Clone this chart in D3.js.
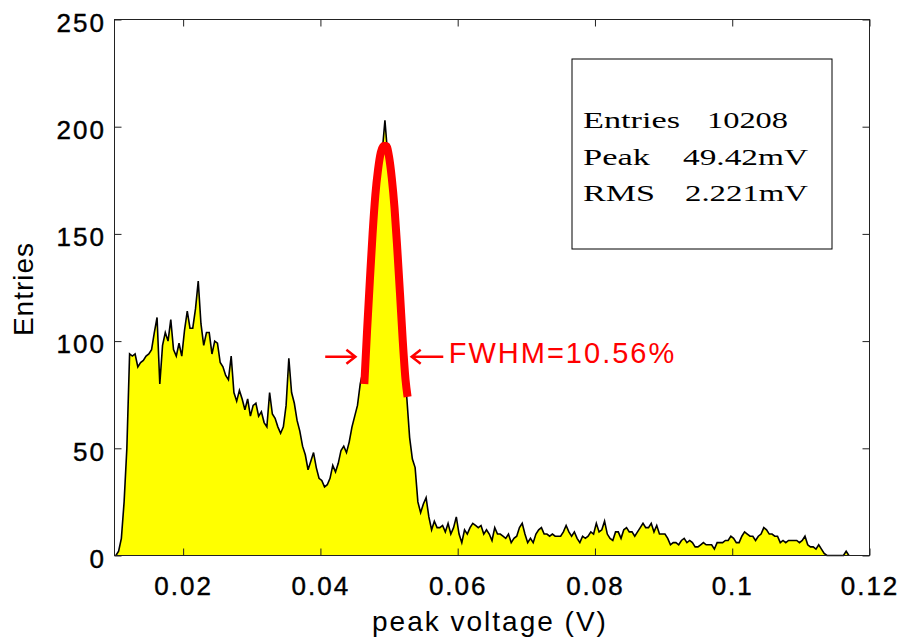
<!DOCTYPE html>
<html>
<head>
<meta charset="utf-8">
<script src="https://cdn.jsdelivr.net/npm/d3@7"></script>
<style>
  body { margin: 0; background: #fff; }
</style>
</head>
<body>
<div id="chart"></div>
<script>
// histogram: bins of 0.4 mV starting at 10 mV, entries per bin
const binStart = 0.01;
const binWidth = 0.0004;
const counts = [
  0, 2, 8, 25, 50, 94, 93, 94, 88, 90, 91, 93, 94, 96, 104, 111, 80, 98, 104, 100,
  110, 96, 93, 99, 93, 105, 114, 106, 106, 115, 128, 108, 98, 104, 104, 94, 100, 99, 90, 88,
  84, 82, 93, 76, 72, 77, 73, 68, 73, 65, 70, 71, 65, 67, 62, 60, 76, 66, 64, 60,
  57, 60, 70, 92, 76, 71, 63, 58, 51, 47, 40, 44, 48, 41, 36, 35, 32, 33, 36, 42,
  39, 43, 49, 51, 48, 53, 60, 65, 70, 80, 86, 96, 115, 140, 157, 175, 183, 188, 203, 187,
  182, 166, 150, 131, 111, 90, 73, 55, 45, 41, 25, 20, 24, 27, 18, 12, 16, 13, 13, 14,
  11, 15, 10, 13, 18, 10, 6, 12, 10, 13, 15, 14, 13, 14, 10, 12, 10, 7, 13, 10,
  10, 9, 8, 10, 6, 8, 9, 13, 15, 10, 6, 8, 6, 10, 12, 13, 10, 10, 9, 10,
  9, 9, 9, 11, 14, 11, 9, 11, 8, 6, 9, 8, 9, 11, 10, 15, 11, 12, 16, 10,
  8, 7, 11, 11, 8, 12, 13, 11, 11, 9, 11, 13, 15, 13, 13, 15, 11, 14, 10, 10,
  10, 8, 5, 6, 6, 5, 7, 8, 6, 7, 6, 4, 4, 5, 6, 5, 5, 5, 3, 6,
  6, 6, 7, 7, 9, 8, 6, 6, 9, 11, 10, 9, 9, 7, 9, 10, 13, 12, 10, 10,
  9, 9, 6, 7, 6, 7, 7, 7, 7, 6, 7, 9, 5, 4, 4, 3, 5, 3, 1, 0,
  0, 0, 0, 0, 0, 0, 2, 0
];

// gaussian fit around the peak
const fitVolts = [0.0464, 0.0468, 0.0472, 0.0476, 0.0480, 0.0484, 0.0488, 0.0492, 0.0496,
  0.0500, 0.0504, 0.0508, 0.0512, 0.0516, 0.0520, 0.0524, 0.0527];
const fitEntries = [80, 105, 128, 150, 168, 180, 188, 191, 191, 186, 176, 162, 143, 122, 100, 82, 74];

const xTicks = [0.02, 0.04, 0.06, 0.08, 0.1, 0.12];
const xTickLabels = ["0.02", "0.04", "0.06", "0.08", "0.1", "0.12"];
const yTicks = [0, 50, 100, 150, 200, 250];

const statLabels = ["Entries", "Peak", "RMS"];
const statValues = ["10208", "49.42mV", "2.221mV"];

// FWHM annotation (arrow tails/tips in volts, height in entries)
const fwhmText = "FWHM=10.56%";
const arrowLevel = 92.7;
const leftArrow = [0.0407, 0.0451];
const rightArrow = [0.0579, 0.0533];
const fwhmLabelAt = [0.0587, 89.6];

const sans = "'Liberation Sans', Arial, sans-serif";
const serif = "'Liberation Serif', 'Times New Roman', serif";

//size of the plot
const margin = { top: 19.5, right: 34.5, bottom: 84.5, left: 114.5 };
const width = 904 - margin.left - margin.right;
const height = 640 - margin.top - margin.bottom;

const xScale = d3.scaleLinear().domain([0.01, 0.12]).range([0, width]);
const yScale = d3.scaleLinear().domain([0, 250]).range([height, 0]);

const svg = d3
  .select("#chart")
  .append("svg")
  .attr("width", 904)
  .attr("height", 640)
  .append("g")
  .attr("transform", "translate(" + margin.left + "," + margin.top + ")");

// histogram
const bins = counts.map((c, i) => ({ v: binStart + binWidth * (i + 0.5), c: c }));

svg
  .append("path")
  .datum(bins)
  .attr("fill", "#ffff00")
  .attr("d", d3.area().x(d => xScale(d.v)).y0(height).y1(d => yScale(d.c)));

svg
  .append("path")
  .datum(bins)
  .attr("fill", "none")
  .attr("stroke", "#000")
  .attr("stroke-width", 1.6)
  .attr("d", d3.line().x(d => xScale(d.v)).y(d => yScale(d.c)));

// fit curve
const fit = fitVolts.map((v, i) => ({ v: v, c: fitEntries[i] }));
svg
  .append("path")
  .datum(fit)
  .attr("fill", "none")
  .attr("stroke", "#ff0000")
  .attr("stroke-width", 8)
  .attr("d", d3.line().curve(d3.curveMonotoneX).x(d => xScale(d.v)).y(d => yScale(d.c)));

// arrows
[leftArrow, rightArrow].forEach(a => {
  const x0 = xScale(a[0]);
  const x1 = xScale(a[1]);
  const y = yScale(arrowLevel);
  const dir = x1 > x0 ? 1 : -1;
  svg
    .append("path")
    .attr("fill", "none")
    .attr("stroke", "#ff0000")
    .attr("stroke-width", 2.5)
    .attr("d", "M" + x0 + "," + y + "L" + x1 + "," + y +
      "M" + (x1 - dir * 9) + "," + (y - 7) + "L" + x1 + "," + y + "L" + (x1 - dir * 9) + "," + (y + 7));
});

svg
  .append("text")
  .attr("x", xScale(fwhmLabelAt[0]))
  .attr("y", yScale(fwhmLabelAt[1]))
  .attr("fill", "#ff0000")
  .style("font-family", sans)
  .style("font-size", "29px")
  .attr("letter-spacing", 2)
  .text(fwhmText);

// axes, ticks inside on all sides
const xAxis = d3.axisBottom(xScale)
  .tickValues(xTicks)
  .tickFormat((d, i) => xTickLabels[i])
  .tickSizeInner(-7)
  .tickSizeOuter(0)
  .tickPadding(21);
const yAxis = d3.axisLeft(yScale)
  .tickValues(yTicks)
  .tickSizeInner(-7)
  .tickSizeOuter(0)
  .tickPadding(8.5);

const gx = svg
  .append("g")
  .attr("transform", "translate(0," + height + ")")
  .call(xAxis);
const gy = svg.append("g").call(yAxis);
svg.append("g").call(d3.axisTop(xScale).tickValues(xTicks).tickSize(-7).tickFormat(""));
svg
  .append("g")
  .attr("transform", "translate(" + width + ",0)")
  .call(d3.axisRight(yScale).tickValues(yTicks).tickSize(-7).tickFormat(""));

svg.selectAll(".domain").remove();
svg.selectAll(".tick line").attr("stroke", "#222");
[gx, gy].forEach(g => {
  g.selectAll("text")
    .style("font-family", sans)
    .style("font-size", "26px")
    .attr("fill", "#000")
    .attr("stroke", "#000")
    .attr("stroke-width", 0.4)
    .attr("letter-spacing", 2);
});
gy.selectAll("text").attr("dy", "0.45em");

// frame
svg
  .append("rect")
  .attr("width", width)
  .attr("height", height)
  .attr("fill", "none")
  .attr("stroke", "#222")
  .attr("stroke-width", 1);

// axis titles
svg
  .append("text")
  .attr("x", width / 2 - 2)
  .attr("y", height + 75.5)
  .attr("text-anchor", "middle")
  .style("font-family", sans)
  .style("font-size", "28px")
  .attr("letter-spacing", 2)
  .text("peak voltage (V)");

svg
  .append("text")
  .attr("transform", "translate(" + (33 - margin.left) + "," + (height / 2 + 1.5) + ") rotate(-90)")
  .attr("text-anchor", "middle")
  .style("font-family", sans)
  .style("font-size", "28px")
  .attr("letter-spacing", 1)
  .text("Entries");

// stats box
const box = svg.append("g").attr("transform", "translate(457.5,39.5)");
box
  .append("rect")
  .attr("width", 260)
  .attr("height", 190)
  .attr("fill", "#fff")
  .attr("stroke", "#000")
  .attr("stroke-width", 1);

const rowY = [69, 106, 142];
const labelLen = [97, 67, 72];
const valueX = [135, 111, 113];
const valueLen = [81, 125, 123];
statLabels.forEach((s, i) => {
  box
    .append("text")
    .attr("x", 11)
    .attr("y", rowY[i])
    .style("font-family", serif)
    .style("font-size", "24px")
    .attr("textLength", labelLen[i])
    .attr("lengthAdjust", "spacingAndGlyphs")
    .text(s);
  box
    .append("text")
    .attr("x", valueX[i])
    .attr("y", rowY[i])
    .style("font-family", serif)
    .style("font-size", "24px")
    .attr("textLength", valueLen[i])
    .attr("lengthAdjust", "spacingAndGlyphs")
    .text(statValues[i]);
});
</script>
</body>
</html>
